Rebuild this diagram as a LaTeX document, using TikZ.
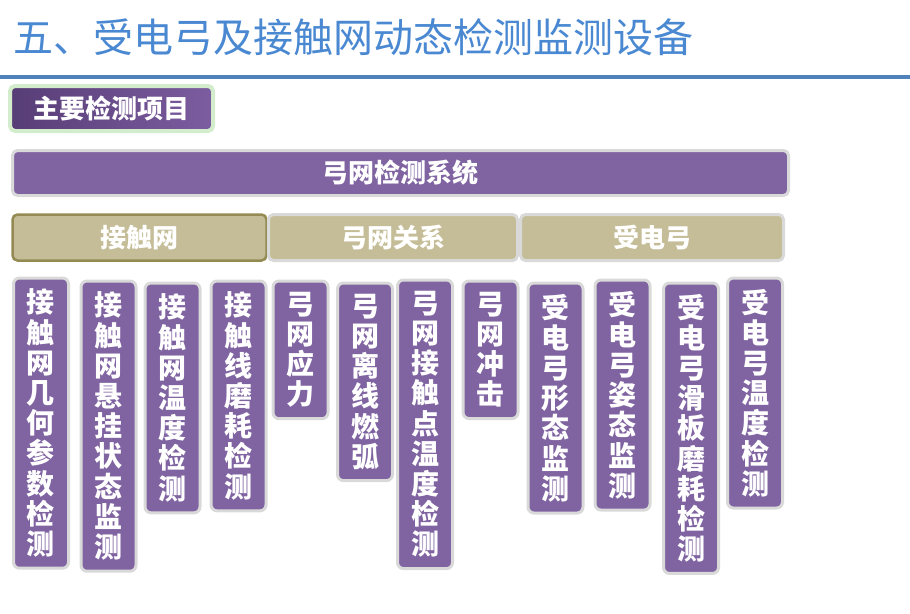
\documentclass[tikz,border=0pt]{standalone}
\usepackage{fontspec}
\newfontfamily\cjk{Noto Sans CJK SC}
\usepackage{tikz}

\definecolor{purp}{HTML}{8064A2}
\definecolor{purpdark}{HTML}{573D76}
\definecolor{purplight}{HTML}{7C5DA0}
\definecolor{sand}{HTML}{C4BD97}
\definecolor{sanddark}{HTML}{948A54}
\definecolor{edgegrey}{HTML}{D9D9D9}
\definecolor{edgegreen}{HTML}{D3EDCC}
\definecolor{titleblue}{HTML}{4A89D2}
\definecolor{ruleblue}{HTML}{4F81BD}

\begin{document}
\begin{tikzpicture}[x=1pt,y=-1pt]
                \tikzstyle{head}=[rounded corners=5pt,line width=4pt,draw=edgegreen,left color=purpdark,right color=purplight,text=white,minimum width=203pt,minimum height=45pt,inner sep=0pt,font=\cjk\bfseries\fontsize{26}{26}\selectfont]
                \tikzstyle{bar}=[rounded corners=5pt,line width=3pt,draw=edgegrey,fill=purp,text=white,minimum height=45pt,inner sep=0pt,font=\cjk\bfseries\fontsize{26}{26}\selectfont]
                \tikzstyle{group}=[rounded corners=5pt,line width=3pt,draw=edgegrey,fill=sand,text=white,minimum height=46pt,inner sep=0pt,font=\cjk\bfseries\fontsize{26}{26}\selectfont]
                \tikzstyle{item}=[rounded corners=6pt,line width=3pt,draw=edgegrey,fill=purp,text=white,anchor=north,minimum width=55pt,inner xsep=0pt,inner ysep=11pt,align=center,font=\cjk\bfseries\fontsize{28}{30.2}\selectfont]

                \useasboundingbox (0,0) rectangle (910,613);

                % title and rule
                \node[anchor=base west,inner sep=0pt,text=titleblue,font=\cjk\fontsize{40}{40}\selectfont] (title) at (13,52) {五、受电弓及接触网动态检测监测设备};
                \draw[ruleblue,line width=4pt] (0,77) -- (910,77);

                \node[head] (main) at (111.5,108.5) {主要检测项目};
                \node[bar,minimum width=776pt] (system) at (400.5,173) {弓网检测系统};

                \node[group,minimum width=254pt,draw=sanddark,line width=2.5pt] (G-cw) at (139.5,237.5) {接触网};
                \node[group,minimum width=249pt] (G-rel) at (393,237.5) {弓网关系};
                \node[group,minimum width=263pt] (G-pan) at (652,237.5) {受电弓};

                \foreach \nm/\x/\y/\txt in {geo/41/276.5/{接\\触\\网\\几\\何\\参\\数\\检\\测},
                                            susp/108.5/279.5/{接\\触\\网\\悬\\挂\\状\\态\\监\\测},
                                            cwtemp/172.5/281.5/{接\\触\\网\\温\\度\\检\\测},
                                            wear/238.5/279.5/{接\\触\\线\\磨\\耗\\检\\测},
                                            stress/300.5/279.5/{弓\\网\\应\\力},
                                            arc/365/281.5/{弓\\网\\离\\线\\燃\\弧},
                                            cptemp/425/278.5/{弓\\网\\接\\触\\点\\温\\度\\检\\测},
                                            impact/490.5/279.5/{弓\\网\\冲\\击},
                                            shape/555.5/281.5/{受\\电\\弓\\形\\态\\监\\测},
                                            pose/622.5/278.5/{受\\电\\弓\\姿\\态\\监\\测},
                                            strip/691/281.5/{受\\电\\弓\\滑\\板\\磨\\耗\\检\\测},
                                            ptemp/755/276.5/{受\\电\\弓\\温\\度\\检\\测}}
                        \node[item] (I-\nm) at (\x,\y) {\txt};
\end{tikzpicture}
\end{document}
